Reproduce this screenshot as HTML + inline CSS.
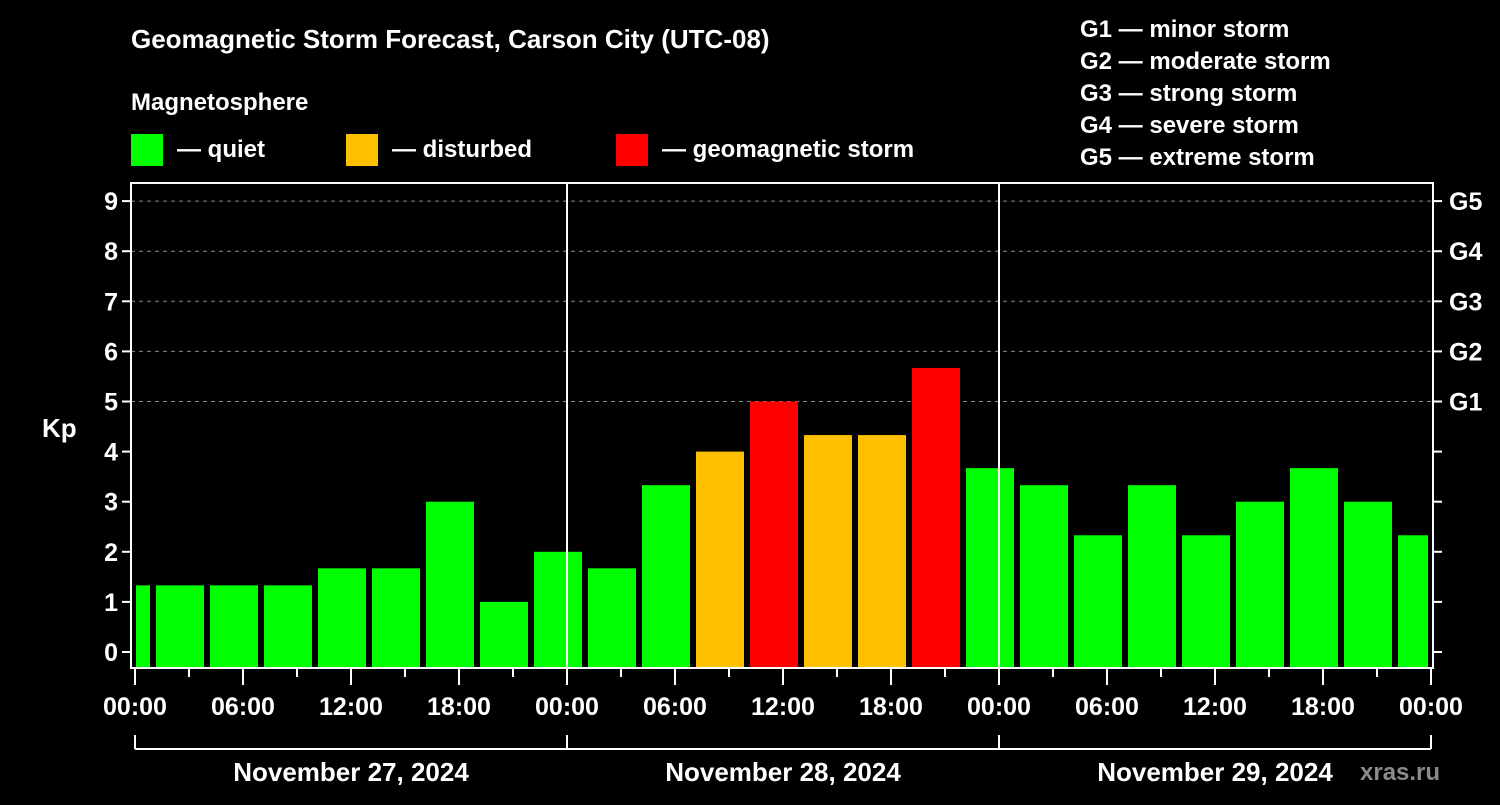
<!DOCTYPE html>
<html><head><meta charset="utf-8"><style>
body{margin:0;background:#000;width:1500px;height:800px;overflow:hidden}
svg text{font-family:"Liberation Sans",sans-serif;font-weight:bold;fill:#fff}
</style></head><body>
<svg id="c" width="1500" height="800">
<text x="131" y="48" font-size="26">Geomagnetic Storm Forecast, Carson City (UTC-08)</text>
<text x="131" y="110" font-size="24">Magnetosphere</text>
<rect x="131" y="134" width="32" height="32" fill="#00ff00"/>
<text x="177" y="157" font-size="24">— quiet</text>
<rect x="346" y="134" width="32" height="32" fill="#ffc000"/>
<text x="392" y="157" font-size="24">— disturbed</text>
<rect x="616" y="134" width="32" height="32" fill="#ff0000"/>
<text x="662" y="157" font-size="24">— geomagnetic storm</text>
<g font-size="24">
<text x="1080" y="37">G1 — minor storm</text>
<text x="1080" y="69">G2 — moderate storm</text>
<text x="1080" y="101">G3 — strong storm</text>
<text x="1080" y="133">G4 — severe storm</text>
<text x="1080" y="165">G5 — extreme storm</text>
</g>
<text x="42" y="437" font-size="26">Kp</text>
<text x="1360" y="780" font-size="24" fill="#888" style="fill:#8a8a8a">xras.ru</text>
<g id="plot"></g>
</svg>
<script>
const kpValues=[1.33,1.33,1.33,1.33,1.67,1.67,3,1,2,1.67,3.33,4,5,4.33,4.33,5.67,3.67,3.33,2.33,3.33,2.33,3,3.67,3,2.33];
const blockStartHours=[-2,1,4,7,10,13,16,19,22,25,28,31,34,37,40,43,46,49,52,55,58,61,64,67,70];
const xTickLabels=["00:00","06:00","12:00","18:00","00:00","06:00","12:00","18:00","00:00","06:00","12:00","18:00","00:00"];
const dayLabels=["November 27, 2024","November 28, 2024","November 29, 2024"];
const yTicks=[0,1,2,3,4,5,6,7,8,9];
const gLabels=["G1","G2","G3","G4","G5"];
const NS="http://www.w3.org/2000/svg";
const g=document.getElementById('plot');
const X=h=>135+h*18, Y=v=>652-v*50.1;
const L=131,R=1433,T=183,B=668;
function mk(t,a){const e=document.createElementNS(NS,t);for(const k in a)e.setAttribute(k,a[k]);g.appendChild(e);return e;}
// grid
for(let v=5;v<=9;v++){const e=mk('line',{x1:L,x2:R,y1:Y(v),y2:Y(v),stroke:'#888','stroke-dasharray':'4 4','stroke-width':1});

}
// bars
kpValues.forEach((v,i)=>{
 const s=Math.max(X(blockStartHours[i])+3,136),en=Math.min(X(blockStartHours[i]+3)-3,1428);
 const col=v>=5?'#ff0000':v>=4?'#ffc000':'#00ff00';
 const e=mk('rect',{x:s,y:Y(v),width:en-s,height:B-Y(v),fill:col});
 
 
});
// day separators
[24,48].forEach(h=>{const e=mk('line',{x1:X(h),x2:X(h),y1:T,y2:B,stroke:'#fff','stroke-width':2});

});
// frame
const f=mk('rect',{x:L,y:T,width:R-L,height:B-T,fill:'none',stroke:'#fff','stroke-width':2});


// y ticks
yTicks.forEach(v=>{
 mk('line',{x1:L-9,x2:L,y1:Y(v),y2:Y(v),stroke:'#fff','stroke-width':2});
 mk('line',{x1:R,x2:R+9,y1:Y(v),y2:Y(v),stroke:'#fff','stroke-width':2});
 const t=mk('text',{x:L-13,y:Y(v)+9,'font-size':25,'text-anchor':'end'});t.textContent=v;
 
 
});
gLabels.forEach((s,i)=>{const t=mk('text',{x:1449,y:Y(5+i)+9,'font-size':25});t.textContent=s;
 
 });
// x ticks
for(let h=0;h<=72;h+=3){mk('line',{x1:X(h),x2:X(h),y1:B,y2:h%6==0?685:677,stroke:'#fff','stroke-width':2});}
xTickLabels.forEach((s,i)=>{const t=mk('text',{x:X(i*6),y:715,'font-size':25,'text-anchor':'middle'});t.textContent=s;
 
 });
// date bracket
mk('line',{x1:X(0),x2:X(72),y1:749,y2:749,stroke:'#fff','stroke-width':2});
for(let d=0;d<=3;d++)mk('line',{x1:X(d*24),x2:X(d*24),y1:735,y2:749,stroke:'#fff','stroke-width':2});
dayLabels.forEach((s,i)=>{const t=mk('text',{x:X(i*24+12),y:781,'font-size':26,'text-anchor':'middle'});t.textContent=s;
 
 });
</script>
</body></html>
